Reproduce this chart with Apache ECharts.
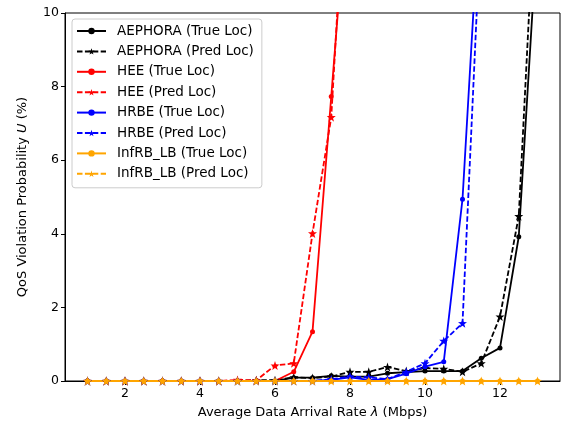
<!DOCTYPE html>
<html>
<head>
<meta charset="utf-8">
<script src="https://cdn.jsdelivr.net/npm/echarts@6/dist/echarts.min.js"></script>
<style>
  html, body { margin: 0; padding: 0; background: #fff; }
  #chart { width: 566px; height: 428px; }
</style>
</head>
<body>
<div id="chart"></div>
<script>
// arrival rates (Mbps)
const rates = [1, 1.5, 2, 2.5, 3, 3.5, 4, 4.5, 5, 5.5, 6, 6.5, 7, 7.5, 8, 8.5, 9, 9.5, 10, 10.5, 11, 11.5, 12, 12.5, 13];
const xTicks = [2, 4, 6, 8, 10, 12];

// QoS violation probability (%); null = not visible
const aephoraTrue = [0, 0, 0, 0, 0, 0, 0, 0, 0, 0, 0, 0.09, 0.09, 0.14, 0.12, 0.12, 0.21, 0.24, 0.27, 0.27, 0.27, 0.62, 0.9, 3.92, 12.3];
const aephoraPred = [0, 0, 0, 0, 0, 0, 0, 0, 0, 0.02, 0.02, 0.1, 0.08, 0.12, 0.25, 0.25, 0.38, 0.27, 0.35, 0.33, 0.25, 0.48, 1.75, 4.48, 14.5];
const heeTrue = [0, 0, 0, 0, 0, 0, 0, 0, 0, 0, 0, 0.25, 1.34, 7.73, 14.2, null, null, null, null, null, null, null, null, null, null];
const heePred = [0, 0, 0, 0, 0, 0, 0, 0, 0.03, 0.02, 0.42, 0.48, 4.01, 7.17, 16, null, null, null, null, null, null, null, null, null, null];
const hrbeTrue = [0, 0, 0, 0, 0, 0, 0, 0, 0, 0, 0, 0, 0, 0.03, 0.1, 0.03, 0.05, 0.2, 0.39, 0.52, 4.94, 13.7, null, null, null];
const hrbePred = [0, 0, 0, 0, 0, 0, 0, 0, 0, 0, 0, 0, 0, 0.05, 0.12, 0.1, 0.05, 0.25, 0.48, 1.09, 1.57, 12.7, null, null, null];
const infrbTrue = [0, 0, 0, 0, 0, 0, 0, 0, 0, 0, 0, 0, 0, 0, 0, 0, 0, 0, 0, 0, 0, 0, 0, 0, 0];
const infrbPred = [0, 0, 0, 0, 0, 0, 0, 0, 0, 0, 0, 0, 0, 0, 0, 0, 0, 0, 0, 0, 0, 0, 0, 0, 0];

// 5-point star like matplotlib '*'
const star = 'path://M0,-10 L2.35,-3.24 L9.51,-3.09 L3.8,1.24 L5.88,8.09 L0,4 L-5.88,8.09 L-3.8,1.24 L-9.51,-3.09 L-2.35,-3.24 Z';

function pairs(vals) {
  return rates.map((x, i) => [x, vals[i]]);
}

function mkSeries(name, vals, color, pred) {
  return {
    name: name,
    type: 'line',
    data: pairs(vals),
    symbol: pred ? star : 'circle',
    symbolSize: pred ? 9 : 5,
    showAllSymbol: true,
    clip: true,
    animation: false,
    itemStyle: { color: color },
    lineStyle: { color: color, width: 1.8, type: pred ? [5.5, 2.4] : 'solid' }
  };
}

const font = 'DejaVu Sans';
const myChart = echarts.init(document.getElementById('chart'), null, { renderer: 'canvas' });
myChart.setOption({
  backgroundColor: '#fff',
  textStyle: { fontFamily: font },
  grid: { left: 65, right: 6, top: 13, bottom: 47, show: true, borderColor: '#000', borderWidth: 1 },
  legend: {
    orient: 'vertical',
    left: 72,
    top: 19,
    itemWidth: 29,
    itemHeight: 8,
    itemGap: 6.4,
    padding: [5, 8, 7, 4],
    backgroundColor: '#fff',
    borderColor: '#cccccc',
    borderWidth: 1,
    borderRadius: 3,
    textStyle: { fontFamily: font, fontSize: 13.5, color: '#000', padding: [0, 0, 0, 6] }
  },
  xAxis: {
    type: 'value',
    min: 0.4,
    max: 13.6,
    name: '',
    nameLocation: 'middle',
    nameGap: 25,
    nameTextStyle: { fontFamily: font, fontSize: 13, color: '#000',
      rich: { i: { fontFamily: font, fontSize: 13, fontStyle: 'italic', color: '#000' } } },
    axisLine: { show: true, lineStyle: { color: '#000', width: 1 } },
    axisTick: { show: true, inside: false, length: 4, customValues: xTicks, lineStyle: { color: '#000' } },
    axisLabel: { customValues: xTicks, fontFamily: font, fontSize: 12.5, color: '#000', margin: 6 },
    splitLine: { show: false }
  },
  yAxis: {
    type: 'value',
    min: 0,
    max: 10,
    interval: 2,
    nameLocation: 'middle',
    nameGap: 36,
    nameTextStyle: { fontFamily: font, fontSize: 13, color: '#000',
      rich: { i: { fontFamily: font, fontSize: 13, fontStyle: 'italic', color: '#000' } } },
    axisLine: { show: true, lineStyle: { color: '#000', width: 1 } },
    axisTick: { show: true, inside: false, length: 4, lineStyle: { color: '#000' } },
    axisLabel: { fontFamily: font, fontSize: 12.5, color: '#000', margin: 6 },
    splitLine: { show: false }
  },
  series: [
    mkSeries('AEPHORA (True Loc)', aephoraTrue, '#000000', false),
    mkSeries('AEPHORA (Pred Loc)', aephoraPred, '#000000', true),
    mkSeries('HEE (True Loc)', heeTrue, '#ff0000', false),
    mkSeries('HEE (Pred Loc)', heePred, '#ff0000', true),
    mkSeries('HRBE (True Loc)', hrbeTrue, '#0000ff', false),
    mkSeries('HRBE (Pred Loc)', hrbePred, '#0000ff', true),
    mkSeries('InfRB_LB (True Loc)', infrbTrue, '#ffa500', false),
    mkSeries('InfRB_LB (Pred Loc)', infrbPred, '#ffa500', true)
  ]
});
// axis titles with italic symbols
myChart.setOption({
  xAxis: { name: 'Average Data Arrival Rate {i|λ} (Mbps)' },
  yAxis: { name: 'QoS Violation Probability {i|U} (%)' }
});
</script>
</body>
</html>
